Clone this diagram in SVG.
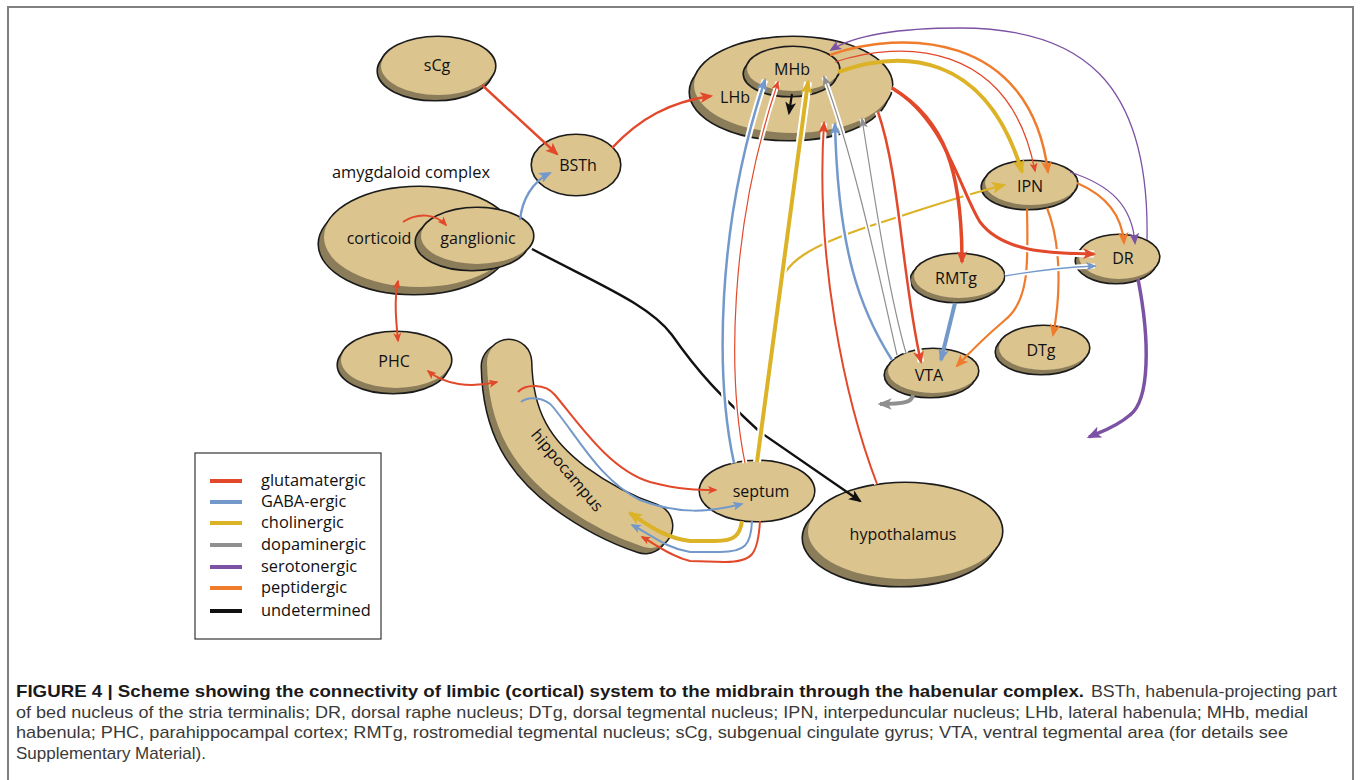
<svg xmlns="http://www.w3.org/2000/svg" xmlns:xlink="http://www.w3.org/1999/xlink" width="1360" height="780" viewBox="0 0 1360 780">
<defs>
<style>
.o{stroke:#1b1b1b;stroke-width:3.2;fill:none}
.s{fill:#8b7d5a}
.m{fill:#dcc48f}
.t{font-family:"Open Sans","Liberation Sans",sans-serif;font-size:16px;fill:#111;text-anchor:middle}
.lg{font-family:"Open Sans","Liberation Sans",sans-serif;font-size:16.4px;fill:#111}
.cap{font-family:"Liberation Sans",Arial,sans-serif;font-size:17px;fill:#3a3a3a}
.capb{font-family:"Liberation Sans",Arial,sans-serif;font-size:17px;font-weight:bold;fill:#1a1a1a}
.c{fill:none;stroke-linecap:butt}
.h{fill:none;stroke:#fff;marker-end:none;marker-start:none}
.R{stroke:#e2482a}.B{stroke:#7399cb}.Y{stroke:#dcb227}.G{stroke:#8f8f8f}.P{stroke:#7c52a5}.O{stroke:#ef7b2c}.K{stroke:#111}
</style>
<marker id="mR" viewBox="0 0 12 10" refX="10" refY="5" markerWidth="13" markerHeight="11" markerUnits="userSpaceOnUse" orient="auto-start-reverse"><path d="M0,0 L12,5 L0,10 L3,5z" fill="#e2482a"/></marker>
<marker id="mRs" viewBox="0 0 12 10" refX="10" refY="5" markerWidth="10" markerHeight="8" markerUnits="userSpaceOnUse" orient="auto-start-reverse"><path d="M0,0 L12,5 L0,10 L3,5z" fill="#e2482a"/></marker>
<marker id="mB" viewBox="0 0 12 10" refX="10" refY="5" markerWidth="13" markerHeight="11" markerUnits="userSpaceOnUse" orient="auto"><path d="M0,0 L12,5 L0,10 L3,5z" fill="#7399cb"/></marker>
<marker id="mBs" viewBox="0 0 12 10" refX="10" refY="5" markerWidth="11" markerHeight="9" markerUnits="userSpaceOnUse" orient="auto"><path d="M0,0 L12,5 L0,10 L3,5z" fill="#7399cb"/></marker>
<marker id="mY" viewBox="0 0 12 10" refX="10" refY="5" markerWidth="15" markerHeight="12" markerUnits="userSpaceOnUse" orient="auto"><path d="M0,0 L12,5 L0,10 L3,5z" fill="#dcb227"/></marker>
<marker id="mG" viewBox="0 0 12 10" refX="10" refY="5" markerWidth="11" markerHeight="9" markerUnits="userSpaceOnUse" orient="auto"><path d="M0,0 L12,5 L0,10 L3,5z" fill="#8f8f8f"/></marker>
<marker id="mGl" viewBox="0 0 12 10" refX="10" refY="5" markerWidth="14" markerHeight="12" markerUnits="userSpaceOnUse" orient="auto"><path d="M0,0 L12,5 L0,10 L3,5z" fill="#8f8f8f"/></marker>
<marker id="mP" viewBox="0 0 12 10" refX="10" refY="5" markerWidth="12" markerHeight="10" markerUnits="userSpaceOnUse" orient="auto"><path d="M0,0 L12,5 L0,10 L3,5z" fill="#7c52a5"/></marker>
<marker id="mPl" viewBox="0 0 12 10" refX="10" refY="5" markerWidth="15" markerHeight="12" markerUnits="userSpaceOnUse" orient="auto"><path d="M0,0 L12,5 L0,10 L3,5z" fill="#7c52a5"/></marker>
<marker id="mO" viewBox="0 0 12 10" refX="10" refY="5" markerWidth="13" markerHeight="11" markerUnits="userSpaceOnUse" orient="auto"><path d="M0,0 L12,5 L0,10 L3,5z" fill="#ef7b2c"/></marker>
<marker id="mK" viewBox="0 0 12 10" refX="10" refY="5" markerWidth="13" markerHeight="11" markerUnits="userSpaceOnUse" orient="auto"><path d="M0,0 L12,5 L0,10 L3,5z" fill="#111"/></marker>
<path id="pSB" d="M734,463 C 716,380 715,230 765,80"/>
<path id="pSR" d="M745,463 C 728,380 728,230 778,82"/>
<path id="pSY" d="M757,462 L 808,82"/>
<path id="pHR" d="M877,484 C 845,400 815,260 824,123"/>
<path id="pVB" d="M892,360 C 860,310 838,250 835,124"/>
<path id="pG1" d="M897,355 C 880,280 855,160 824,77"/>
<path id="pG2" d="M906,353 C 888,290 875,200 862,119"/>
<path id="pLV" d="M878,112 C 900,175 902,280 921,362"/>
<path id="pRD" d="M1005,276 C 1040,270 1070,267 1095,266"/>
<path id="pLD" d="M892,88 C 945,120 960,190 980,222 C 1005,255 1060,253 1094,254"/>
</defs>
<rect x="0" y="0" width="1360" height="780" fill="#fff"/>
<path d="M8,790 L8,7 L1353,7 L1353,790" fill="none" stroke="#808080" stroke-width="2"/>

<g id="nodes">
<g id="sCg"><ellipse class="o" cx="435" cy="71" rx="57" ry="29"/><ellipse class="o" cx="438" cy="66" rx="57" ry="29"/><ellipse class="s" cx="435" cy="71" rx="57" ry="29"/><ellipse class="m" cx="438" cy="66" rx="57" ry="29"/><text class="t" x="437" y="71">sCg</text></g>
<g id="BSTh"><ellipse class="o" cx="576" cy="165" rx="44" ry="30"/><ellipse class="m" cx="576" cy="165" rx="44" ry="30"/><text class="t" x="578" y="171">BSTh</text></g>
<text class="lg" x="332" y="178" textLength="158" lengthAdjust="spacingAndGlyphs">amygdaloid complex</text>
<g id="amygdaloid"><ellipse class="o" cx="414" cy="244" rx="95" ry="50"/><ellipse class="o" cx="419" cy="237" rx="95" ry="50"/><ellipse class="s" cx="414" cy="244" rx="95" ry="50"/><ellipse class="m" cx="419" cy="237" rx="95" ry="50"/><text class="t" x="379" y="244">corticoid</text></g>
<g id="ganglionic"><ellipse class="o" cx="472" cy="242" rx="56" ry="28"/><ellipse class="o" cx="477" cy="236" rx="56" ry="28"/><ellipse class="s" cx="472" cy="242" rx="56" ry="28"/><ellipse class="m" cx="477" cy="236" rx="56" ry="28"/><text class="t" x="478" y="244">ganglionic</text></g>
<g id="PHC"><ellipse class="o" cx="393" cy="365" rx="55" ry="28"/><ellipse class="o" cx="396" cy="360" rx="55" ry="28"/><ellipse class="s" cx="393" cy="365" rx="55" ry="28"/><ellipse class="m" cx="396" cy="360" rx="55" ry="28"/><text class="t" x="394" y="367">PHC</text></g>
<g id="hippocampus">
<path d="M504,366 C 505,425 527,460 567,490 C 597,512 627,525 645,531" fill="none" stroke="#1b1b1b" stroke-width="47" stroke-linecap="round"/>
<path d="M509,362 C 510,420 532,455 572,485 C 602,507 632,520 650,526" fill="none" stroke="#1b1b1b" stroke-width="47" stroke-linecap="round"/>
<path d="M504,366 C 505,425 527,460 567,490 C 597,512 627,525 645,531" fill="none" stroke="#8b7d5a" stroke-width="44" stroke-linecap="round"/>
<path d="M509,362 C 510,420 532,455 572,485 C 602,507 632,520 650,526" fill="none" stroke="#dcc48f" stroke-width="44" stroke-linecap="round"/>
<text class="t" x="563" y="474" transform="rotate(50 563 474)">hippocampus</text>
</g>
<g id="septum"><ellipse class="o" cx="757" cy="491" rx="57" ry="30"/><ellipse class="m" cx="757" cy="491" rx="57" ry="30"/><text class="t" x="761" y="497">septum</text></g>
<g id="hypothalamus"><ellipse class="o" cx="900" cy="538" rx="97" ry="48"/><ellipse class="o" cx="905" cy="531" rx="97" ry="48"/><ellipse class="s" cx="900" cy="538" rx="97" ry="48"/><ellipse class="m" cx="905" cy="531" rx="97" ry="48"/><text class="t" x="903" y="540">hypothalamus</text></g>
<g id="LHb"><ellipse class="o" cx="789" cy="92" rx="99" ry="48"/><ellipse class="o" cx="793" cy="85" rx="99" ry="48"/><ellipse class="s" cx="789" cy="92" rx="99" ry="48"/><ellipse class="m" cx="793" cy="85" rx="99" ry="48"/><text class="t" x="735" y="103">LHb</text></g>
<g id="MHb"><ellipse class="o" cx="790" cy="74" rx="46" ry="22"/><ellipse class="o" cx="793" cy="69" rx="46" ry="22"/><ellipse class="s" cx="790" cy="74" rx="46" ry="22"/><ellipse class="m" cx="793" cy="69" rx="46" ry="22"/><text class="t" x="792" y="75">MHb</text></g>
<g id="IPN"><ellipse class="o" cx="1028" cy="187" rx="46" ry="22"/><ellipse class="o" cx="1031" cy="183" rx="46" ry="22"/><ellipse class="s" cx="1028" cy="187" rx="46" ry="22"/><ellipse class="m" cx="1031" cy="183" rx="46" ry="22"/><text class="t" x="1030" y="192">IPN</text></g>
<g id="RMTg"><ellipse class="o" cx="956" cy="280" rx="45" ry="22"/><ellipse class="o" cx="959" cy="276" rx="45" ry="22"/><ellipse class="s" cx="956" cy="280" rx="45" ry="22"/><ellipse class="m" cx="959" cy="276" rx="45" ry="22"/><text class="t" x="956" y="284">RMTg</text></g>
<g id="DR"><ellipse class="o" cx="1116" cy="261" rx="40" ry="22"/><ellipse class="o" cx="1119" cy="257" rx="40" ry="22"/><ellipse class="s" cx="1116" cy="261" rx="40" ry="22"/><ellipse class="m" cx="1119" cy="257" rx="40" ry="22"/><text class="t" x="1123" y="264">DR</text></g>
<g id="DTg"><ellipse class="o" cx="1041" cy="352" rx="45" ry="22"/><ellipse class="o" cx="1044" cy="348" rx="45" ry="22"/><ellipse class="s" cx="1041" cy="352" rx="45" ry="22"/><ellipse class="m" cx="1044" cy="348" rx="45" ry="22"/><text class="t" x="1041" y="356">DTg</text></g>
<g id="VTA"><ellipse class="o" cx="930" cy="375" rx="45" ry="22"/><ellipse class="o" cx="933" cy="371" rx="45" ry="22"/><ellipse class="s" cx="930" cy="375" rx="45" ry="22"/><ellipse class="m" cx="933" cy="371" rx="45" ry="22"/><text class="t" x="929" y="381">VTA</text></g>
</g>

<g id="connectors">
<path class="c R" stroke-width="2.4" marker-end="url(#mR)" d="M482,85 L557,154"/>
<path class="c B" stroke-width="2.4" marker-end="url(#mB)" d="M520,220 C 522,200 532,182 550,173"/>
<path class="c R" stroke-width="2.4" marker-end="url(#mR)" d="M612,148 C 640,118 670,102 711,96"/>
<path class="c R" stroke-width="2" marker-end="url(#mRs)" d="M403,222 C 418,212 436,214 446,225"/>
<path class="c R" stroke-width="2" marker-start="url(#mRs)" marker-end="url(#mRs)" d="M398,281 C 394,300 396,320 398,341"/>
<path class="c R" stroke-width="2" marker-start="url(#mRs)" marker-end="url(#mRs)" d="M428,371 C 445,385 470,388 497,382"/>
<path class="c K" stroke-width="2.4" marker-end="url(#mK)" d="M532,249 C 600,285 650,305 672,335 C 700,375 720,395 760,432 L 860,501"/>
<path class="c R" stroke-width="2" marker-end="url(#mRs)" d="M518,392 C 525,384 545,383 555,395 C 580,425 610,470 650,482 C 680,490 700,490 716,490"/>
<path class="c B" stroke-width="2" marker-end="url(#mBs)" d="M521,402 C 528,396 545,397 553,407 C 580,440 600,480 640,500 C 680,515 710,512 742,504"/>
<path class="c Y" stroke-width="4" marker-end="url(#mY)" d="M742,521 C 740,535 735,541 715,541 L 690,541 C 665,538 648,525 630,513"/>
<path class="c B" stroke-width="2" marker-end="url(#mBs)" d="M752,521 C 751,545 745,552 720,552 L 690,552 C 665,548 650,534 632,525"/>
<path class="c R" stroke-width="2" marker-end="url(#mRs)" d="M760,521 C 758,555 752,562 725,562 L 690,561 C 670,556 657,545 642,537"/>
<path class="c Y" stroke-width="2.2" marker-end="url(#mY)" d="M778,290 C 783,262 810,246 870,226 C 920,210 960,196 1004,185"/>
<use href="#pSB" class="h" stroke-width="6.5"/><use href="#pSB" class="c B" stroke-width="2.5" marker-end="url(#mB)"/>
<use href="#pSR" class="h" stroke-width="5"/><use href="#pSR" class="c R" stroke-width="1.2" marker-end="url(#mRs)"/>
<use href="#pSY" class="h" stroke-width="8"/><use href="#pSY" class="c Y" stroke-width="4" marker-end="url(#mY)"/>
<use href="#pHR" class="h" stroke-width="6"/><use href="#pHR" class="c R" stroke-width="2" marker-end="url(#mR)"/>
<use href="#pVB" class="h" stroke-width="6.5"/><use href="#pVB" class="c B" stroke-width="2.5" marker-end="url(#mB)"/>
<use href="#pG1" class="h" stroke-width="5"/><use href="#pG1" class="c G" stroke-width="1.2" marker-end="url(#mG)"/>
<use href="#pG2" class="h" stroke-width="5"/><use href="#pG2" class="c G" stroke-width="1.2" marker-end="url(#mG)"/>
<use href="#pLV" class="h" stroke-width="6.5"/><use href="#pLV" class="c R" stroke-width="2.5" marker-end="url(#mR)"/>
<path class="c O" stroke-width="2.2" marker-end="url(#mO)" d="M1027,209 C 1028,260 1030,300 1005,320 C 985,337 970,352 957,366"/>
<path class="c O" stroke-width="2.2" marker-end="url(#mO)" d="M1047,208 C 1060,240 1062,290 1053,335"/>
<use href="#pLD" class="h" stroke-width="7"/><use href="#pLD" class="c R" stroke-width="3" marker-end="url(#mR)"/>
<path class="c R" stroke-width="3.5" marker-end="url(#mR)" d="M892,88 C 945,120 962,170 962,262"/>
<use href="#pRD" class="h" stroke-width="5"/><use href="#pRD" class="c B" stroke-width="1.3" marker-end="url(#mBs)"/>
<path class="c B" stroke-width="4" marker-end="url(#mB)" d="M955,303 L941,360"/>
<path class="c Y" stroke-width="4" marker-end="url(#mY)" d="M838,72 C 900,50 985,50 1022,172"/>
<path class="c R" stroke-width="1.3" marker-end="url(#mRs)" d="M835,62 C 900,40 1010,40 1035,171"/>
<path class="c O" stroke-width="2.5" marker-end="url(#mO)" d="M830,55 C 900,30 1030,30 1048,172"/>
<path class="c P" stroke-width="1.3" marker-end="url(#mP)" d="M1147,240 C 1150,80 1080,28 960,28 C 900,28 855,35 831,50"/>
<path class="c P" stroke-width="1.3" marker-end="url(#mP)" d="M1070,172 C 1110,185 1132,205 1135,243"/>
<path class="c O" stroke-width="2.2" marker-end="url(#mO)" d="M1077,183 C 1105,195 1122,215 1124,243"/>
<path class="c P" stroke-width="3.5" marker-end="url(#mPl)" d="M1138,279 C 1150,340 1150,400 1130,415 C 1115,428 1100,432 1089,437"/>
<path class="c G" stroke-width="4" marker-end="url(#mGl)" d="M913,395 C 912,402 905,404 880,404"/>
<path class="c K" stroke-width="2.2" marker-end="url(#mK)" d="M792,94 L789,113"/>
</g>

<g id="legend">
<rect x="195" y="453" width="186" height="186" fill="#fff" stroke="#444" stroke-width="1.3"/>
<g stroke-width="4">
<line x1="210" y1="481" x2="242" y2="481" stroke="#e2482a"/>
<line x1="210" y1="502" x2="242" y2="502" stroke="#7399cb"/>
<line x1="210" y1="523" x2="242" y2="523" stroke="#dcb227"/>
<line x1="210" y1="545" x2="242" y2="545" stroke="#8f8f8f"/>
<line x1="210" y1="567" x2="242" y2="567" stroke="#7c52a5"/>
<line x1="210" y1="588" x2="242" y2="588" stroke="#ef7b2c"/>
<line x1="210" y1="611" x2="242" y2="611" stroke="#111"/>
</g>
<text class="lg" x="261" y="486">glutamatergic</text>
<text class="lg" x="261" y="507">GABA-ergic</text>
<text class="lg" x="261" y="528">cholinergic</text>
<text class="lg" x="261" y="550">dopaminergic</text>
<text class="lg" x="261" y="572">serotonergic</text>
<text class="lg" x="261" y="593">peptidergic</text>
<text class="lg" x="261" y="616">undetermined</text>
</g>

<g id="caption">
<text class="capb" x="16" y="697" textLength="1068" lengthAdjust="spacingAndGlyphs">FIGURE 4 | Scheme showing the connectivity of limbic (cortical) system to the midbrain through the habenular complex.</text>
<text class="cap" x="1091" y="697" textLength="246" lengthAdjust="spacingAndGlyphs">BSTh, habenula-projecting part</text>
<text class="cap" x="16" y="717.5" textLength="1292" lengthAdjust="spacingAndGlyphs">of bed nucleus of the stria terminalis; DR, dorsal raphe nucleus; DTg, dorsal tegmental nucleus; IPN, interpeduncular nucleus; LHb, lateral habenula; MHb, medial</text>
<text class="cap" x="16" y="738" textLength="1272" lengthAdjust="spacingAndGlyphs">habenula; PHC, parahippocampal cortex; RMTg, rostromedial tegmental nucleus; sCg, subgenual cingulate gyrus; VTA, ventral tegmental area (for details see</text>
<text class="cap" x="16" y="758.5" textLength="190" lengthAdjust="spacingAndGlyphs">Supplementary Material).</text>
</g>
</svg>
